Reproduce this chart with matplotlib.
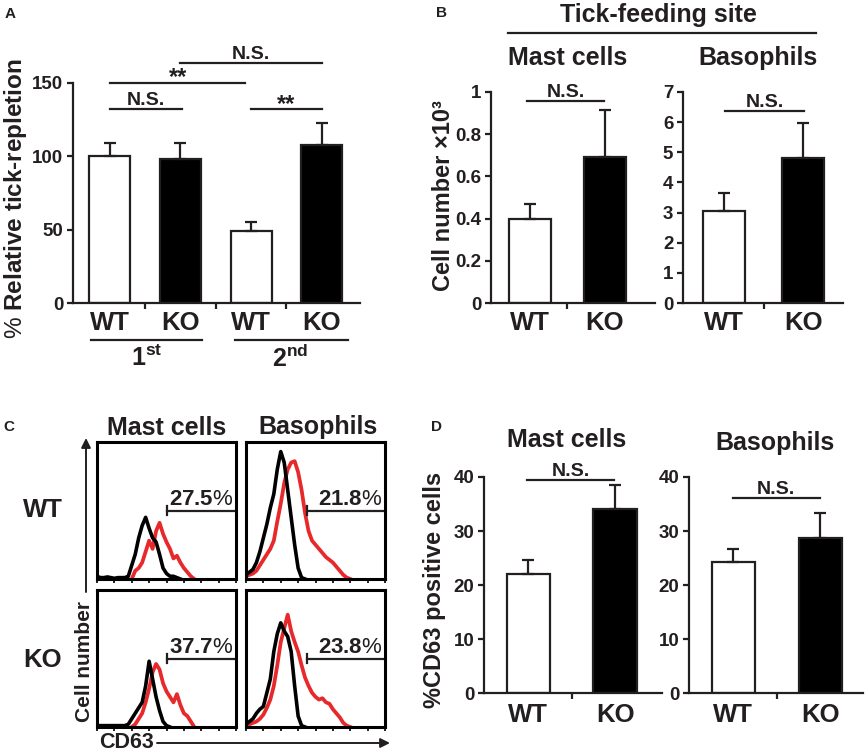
import matplotlib
matplotlib.use('Agg')
import matplotlib.pyplot as plt
from matplotlib.lines import Line2D
import matplotlib.transforms as mtransforms
import numpy as np

plt.rcParams['font.family'] = ['Liberation Sans', 'DejaVu Sans']
plt.rcParams['mathtext.fontset'] = 'custom'
plt.rcParams['mathtext.rm'] = 'Liberation Sans'
plt.rcParams['mathtext.bf'] = 'Liberation Sans:bold'
plt.rcParams['mathtext.it'] = 'Liberation Sans:italic'

INK = '#231f20'
RED = '#e8292b'

# ---------------- data ----------------
# Panel A: relative tick repletion (1st / 2nd infestation)
a_labels = ['WT', 'KO', 'WT', 'KO']
a_mean = [100, 98, 49, 108]
a_sem = [9, 11, 6, 15]
a_fill = ['white', 'black', 'white', 'black']

# Panel B: cell number x10^3 at tick-feeding site
b_labels = ['WT', 'KO']
b_mast_mean = [0.40, 0.69]
b_mast_sem = [0.07, 0.225]
b_baso_mean = [3.05, 4.82]
b_baso_sem = [0.60, 1.16]

# Panel D: %CD63 positive cells
d_mast_mean = [22.0, 34.1]
d_mast_sem = [2.6, 4.4]
d_baso_mean = [24.3, 28.7]
d_baso_sem = [2.4, 4.6]

# Panel C: CD63 histograms (log10 CD63 bins, % of mode)
cd63_bins = [0.0, 0.1, 0.2, 0.3, 0.4, 0.5, 0.6, 0.7, 0.8, 0.9,
             1.0, 1.1, 1.2, 1.3, 1.4, 1.5, 1.6, 1.7, 1.8, 1.9,
             2.0, 2.1, 2.2, 2.3, 2.4, 2.5, 2.6, 2.7, 2.8, 2.9, 3.0]
mast_wt_black = [2, 1, 1, 1.5, 1, 0.5, 1, 1, 1, 2,
                 10, 18, 30, 39, 45, 37, 30, 27, 18, 8,
                 4, 2, 2, 1, 0, 0, 0, 0, 0, 0, 0]
mast_wt_red = [0, 0, 0, 0, 0, 0, 0, 0, 0, 0,
               0, 6, 8, 12, 20, 28, 22, 35, 41, 33,
               27, 22, 15, 17, 12, 8, 5, 2, 0, 0, 0]
baso_wt_black = [3, 5, 7, 12, 20, 30, 40, 52, 62, 80,
                 93, 85, 65, 45, 25, 8, 1, 0, 0, 0,
                 0, 0, 0, 0, 0, 0, 0, 0, 0, 0, 0]
baso_wt_red = [2, 3, 4, 6, 10, 14, 18, 22, 28, 42,
               55, 70, 80, 85, 86, 78, 65, 48, 35, 28,
               25, 22, 19, 16, 14, 12, 9, 6, 3, 1, 0]
mast_ko_black = [1, 1, 1, 1, 1, 1, 1, 1, 1, 2,
                 6, 10, 14, 18, 30, 48, 35, 22, 12, 4,
                 1, 0, 0, 0, 0, 0, 0, 0, 0, 0, 0]
mast_ko_red = [0, 0, 0, 0, 0, 0, 0, 0, 0, 0,
               0, 2, 6, 10, 18, 28, 40, 46, 42, 32,
               26, 22, 18, 24, 16, 10, 8, 4, 0, 0, 0]
baso_ko_black = [2, 4, 6, 10, 13, 15, 25, 35, 55, 68,
                 76, 70, 66, 55, 30, 8, 1, 0, 0, 0,
                 0, 0, 0, 0, 0, 0, 0, 0, 0, 0, 0]
baso_ko_red = [1, 2, 3, 4, 6, 9, 14, 20, 30, 45,
               62, 72, 82, 70, 62, 55, 45, 36, 30, 25,
               22, 20, 21, 18, 17, 13, 10, 7, 3, 1, 0]
gate_pct = ['27.5', '21.8', '37.7', '23.8']
gate_start = [2.0, 1.75, 2.0, 1.75]

# ---------------- figure ----------------
W, H = 868, 753
fig = plt.figure(figsize=(W / 100, H / 100), dpi=100)

TITLE = 18
CAT = 18.5
NUM = 13.5


def add_ax(l, t, r, b):
    return fig.add_axes([l / W, 1 - b / H, (r - l) / W, (b - t) / H])


def ftext(x, y, s, **kw):
    kw.setdefault('ha', 'center')
    kw.setdefault('va', 'center')
    kw.setdefault('color', INK)
    fig.text(x / W, 1 - y / H, s, **kw)


def fline(x0, x1, y0, y1):
    fig.add_artist(Line2D([x0 / W, x1 / W], [1 - y0 / H, 1 - y1 / H],
                          transform=fig.transFigure, color=INK, lw=1.6))


def bar_panel(ax, means, sems, fills, labels, ylim, yticks, yticklabels,
              xlim, width, xpad=6):
    x = np.arange(len(means))
    ax.bar(x, means, width, color=fills, edgecolor=INK, linewidth=1.6, zorder=2)
    ax.errorbar(x, means, yerr=[np.zeros(len(means)), sems], fmt='none',
                ecolor=INK, elinewidth=1.6, capsize=4.5, capthick=1.6, zorder=3)
    ax.set_xlim(*xlim)
    ax.set_ylim(*ylim)
    ax.set_yticks(yticks)
    ax.set_yticklabels(yticklabels, fontsize=NUM, fontweight='bold', color=INK)
    ax.set_xticks(x)
    ax.set_xticklabels(labels, fontsize=CAT, fontweight='bold', color=INK)
    ax.set_xticks(x[:-1] + 0.5, minor=True)
    ax.tick_params(axis='x', which='major', length=0, pad=xpad)
    ax.tick_params(axis='x', which='minor', length=4, width=1.6, color=INK,
                   direction='out')
    ax.tick_params(axis='y', length=4, width=1.6, color=INK, pad=3)
    for s in ['top', 'right']:
        ax.spines[s].set_visible(False)
    for s in ['left', 'bottom']:
        ax.spines[s].set_linewidth(1.6)
        ax.spines[s].set_color(INK)
    ax.patch.set_alpha(0)


def sig(ax, x0, x1, y, label, stars=False):
    ax.plot([x0, x1], [y, y], color=INK, lw=1.6, clip_on=False)
    if stars:
        ax.annotate(label, xy=((x0 + x1) / 2, y), xytext=(0, -1),
                    textcoords='offset points', ha='center', va='baseline',
                    fontsize=17, fontweight='bold', color=INK,
                    annotation_clip=False)
    else:
        ax.annotate(label, xy=((x0 + x1) / 2, y), xytext=(0, 0),
                    textcoords='offset points', ha='center', va='bottom',
                    fontsize=14, fontweight='bold', color=INK,
                    annotation_clip=False)


# ---------------- Panel A ----------------
axA = add_ax(73, 83, 360, 303)
bar_panel(axA, a_mean, a_sem, a_fill, a_labels, (0, 150), [0, 50, 100, 150],
          ['0', '50', '100', '150'], (-0.52, 3.54), 0.58)
sig(axA, 0.01, 1.02, 132, 'N.S.')
sig(axA, 0.0, 1.92, 150, '**', stars=True)
sig(axA, 1.0, 3.0, 163.6, 'N.S.')
sig(axA, 2.0, 3.0, 132, '**', stars=True)
trA = mtransforms.blended_transform_factory(axA.transData, axA.transAxes)
axA.plot([-0.26, 1.30], [-0.168, -0.168], color=INK, lw=1.6,
         transform=trA, clip_on=False)
axA.plot([1.77, 3.37], [-0.168, -0.168], color=INK, lw=1.6,
         transform=trA, clip_on=False)
axA.text(0.52, -0.25, r'$\mathbf{1^{st}}$', transform=trA, ha='center',
         va='center', fontsize=18, color=INK)
axA.text(2.55, -0.25, r'$\mathbf{2^{nd}}$', transform=trA, ha='center',
         va='center', fontsize=18, color=INK)
ftext(16, 199, r'$\mathrm{\%}$ Relative tick-repletion', rotation=90,
      fontsize=17.5, fontweight='bold')
ftext(10, 14, 'A', fontsize=11, fontweight='bold')

# ---------------- Panel B ----------------
axBm = add_ax(491, 92, 655, 303)
bar_panel(axBm, b_mast_mean, b_mast_sem, ['white', 'black'], b_labels,
          (0, 1), [0, 0.2, 0.4, 0.6, 0.8, 1.0],
          ['0', '0.2', '0.4', '0.6', '0.8', '1'], (-0.52, 1.67), 0.56)
sig(axBm, -0.04, 0.99, 0.957, 'N.S.')
axBb = add_ax(683, 92, 843, 303)
bar_panel(axBb, b_baso_mean, b_baso_sem, ['white', 'black'], b_labels,
          (0, 7), list(range(8)), [str(i) for i in range(8)],
          (-0.52, 1.5), 0.53)
sig(axBb, 0.01, 1.01, 6.37, 'N.S.')
ftext(658, 15, 'Tick-feeding site', fontsize=TITLE, fontweight='bold')
fline(508, 816, 33, 33)
ftext(568, 58, 'Mast cells', fontsize=TITLE, fontweight='bold')
ftext(758, 58, 'Basophils', fontsize=TITLE, fontweight='bold')
ftext(443, 196, 'Cell number ×10³', rotation=90, fontsize=17,
      fontweight='bold')
ftext(442, 13, 'B', fontsize=11, fontweight='bold')

# ---------------- Panel C ----------------
boxes = [(97, 442, 236, 579), (246, 442, 385, 579),
         (97, 590, 236, 727), (246, 590, 385, 727)]
curves = [(mast_wt_black, mast_wt_red), (baso_wt_black, baso_wt_red),
          (mast_ko_black, mast_ko_red), (baso_ko_black, baso_ko_red)]


def trim(xs, ys):
    xs = np.asarray(xs, float)
    ys = np.asarray(ys, float)
    nz = np.nonzero(ys > 0)[0]
    i0 = max(nz[0] - 1, 0)
    i1 = min(nz[-1] + 1, len(ys) - 1)
    return xs[i0:i1 + 1], ys[i0:i1 + 1]


for (l, t, r, b), (blk, red), pct, g0 in zip(boxes, curves, gate_pct, gate_start):
    ax = add_ax(l, t, r, b)
    xr, yr = trim(cd63_bins, red)
    xb, yb = trim(cd63_bins, blk)
    ax.plot(xr, yr, color=RED, lw=2.7, solid_joinstyle='round', zorder=2)
    ax.plot(xb, yb, color='black', lw=2.6, solid_joinstyle='round', zorder=3)
    ax.set_xlim(0, 4)
    ax.set_ylim(0, 100)
    ax.set_yticks([])
    ax.set_xticks([0, 0.5, 1, 1.5, 2, 2.5, 3, 3.5, 4])
    ax.set_xticklabels([])
    ax.tick_params(axis='x', length=3, width=1.4, color=INK, direction='out')
    for s in ax.spines.values():
        s.set_linewidth(2.2)
        s.set_color('black')
    ax.plot([g0, 3.93], [50, 50], color=INK, lw=1.6, zorder=4)
    ax.plot([g0, g0], [47, 53], color=INK, lw=1.6, zorder=4)
    ax.text(3.92, 50.5, pct + r'$\mathrm{\%}$', ha='right', va='bottom',
            fontsize=16, fontweight='bold', color=INK, zorder=5)

ftext(167, 428, 'Mast cells', fontsize=TITLE, fontweight='bold')
ftext(318, 427, 'Basophils', fontsize=TITLE, fontweight='bold')
ftext(43, 510, 'WT', fontsize=CAT, fontweight='bold')
ftext(43, 660, 'KO', fontsize=CAT, fontweight='bold')
ftext(85, 662, 'Cell number', rotation=90, fontsize=15, fontweight='bold')
ftext(126, 743, 'CD63', fontsize=15.5, fontweight='bold')
arrow_kw = dict(arrowstyle='-|>', lw=1.4, color=INK, mutation_scale=14,
                shrinkA=0, shrinkB=0)
fig.add_artist(matplotlib.patches.FancyArrowPatch(
    (86 / W, 1 - 592 / H), (86 / W, 1 - 438 / H),
    transform=fig.transFigure, **arrow_kw))
fig.add_artist(matplotlib.patches.FancyArrowPatch(
    (157 / W, 1 - 743 / H), (390 / W, 1 - 743 / H),
    transform=fig.transFigure, **arrow_kw))
ftext(9, 427, 'C', fontsize=11, fontweight='bold')

# ---------------- Panel D ----------------
axDm = add_ax(484, 477, 662, 693)
bar_panel(axDm, d_mast_mean, d_mast_sem, ['white', 'black'], b_labels,
          (0, 40), [0, 10, 20, 30, 40], ['0', '10', '20', '30', '40'],
          (-0.51, 1.54), 0.5, xpad=7)
sig(axDm, -0.01, 0.99, 39.4, 'N.S.')
axDb = add_ax(689, 477, 863, 693)
bar_panel(axDb, d_baso_mean, d_baso_sem, ['white', 'black'], b_labels,
          (0, 40), [0, 10, 20, 30, 40], ['0', '10', '20', '30', '40'],
          (-0.51, 1.49), 0.5, xpad=7)
sig(axDb, -0.01, 0.99, 36.1, 'N.S.')
ftext(567, 440, 'Mast cells', fontsize=TITLE, fontweight='bold')
ftext(775, 443, 'Basophils', fontsize=TITLE, fontweight='bold')
ftext(434, 590, '%CD63 positive cells', rotation=90, fontsize=17,
      fontweight='bold')
ftext(436, 427, 'D', fontsize=11, fontweight='bold')

fig.savefig('out.png', dpi=100)
